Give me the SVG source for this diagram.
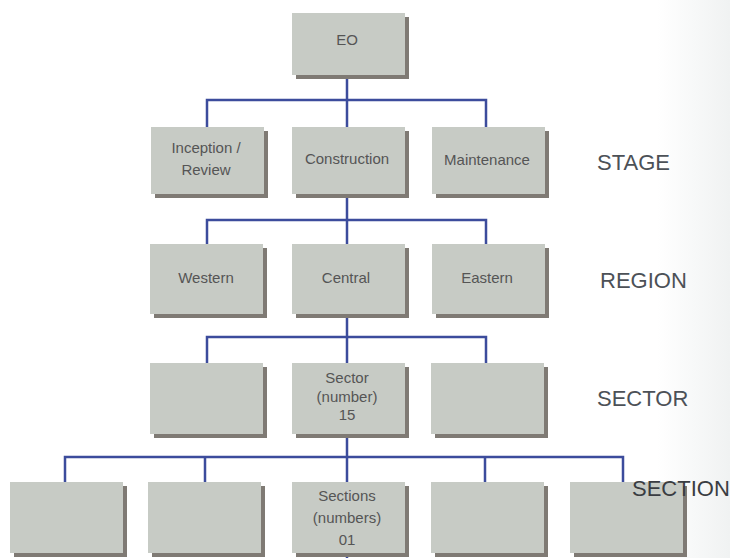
<svg xmlns="http://www.w3.org/2000/svg" width="730" height="558" viewBox="0 0 730 558">
<defs>
<linearGradient id="bg" x1="0" y1="0" x2="1" y2="0">
<stop offset="0" stop-color="#ffffff"/>
<stop offset="0.9" stop-color="#ffffff"/>
<stop offset="1" stop-color="#f0f2f2"/>
</linearGradient>
<style>
.sh{fill:#7f7a74}
.face{fill:#c7cbc5}
.lbl{font-family:"Liberation Sans",Arial,sans-serif;font-size:15px;fill:#555555;text-anchor:middle}
.lvl{font-family:"Liberation Sans",Arial,sans-serif;font-size:22px;fill:#4c5157}
.conn{stroke:#3c4c9c;stroke-width:2.5;fill:none}
</style>
</defs>
<rect width="730" height="558" fill="url(#bg)"/>
<g id="connectors" class="conn">
<path d="M347 75V100M207 127V100H486V127M347 100V127"/>
<path d="M347 194V220M207 244V220H486V244M347 220V244"/>
<path d="M347 314V337M207 363V337H486V363M347 337V363"/>
<path d="M347 434V457M65 482V457H623V482M205 457V482M347 457V482M485 457V482"/>
<path d="M347 553V558"/>
</g>
<g id="eo"><rect class="sh" x="296" y="17" width="113" height="62"/><rect class="face" x="292" y="13" width="113" height="62"/><text class="lbl" x="347" y="45">EO</text></g>
<g id="inception"><rect class="sh" x="155" y="131" width="113" height="67"/><rect class="face" x="151" y="127" width="113" height="67"/><text class="lbl" x="206" y="153">Inception /</text><text class="lbl" x="206" y="175">Review</text></g>
<g id="construction"><rect class="sh" x="296" y="131" width="113" height="67"/><rect class="face" x="292" y="127" width="113" height="67"/><text class="lbl" x="347" y="164">Construction</text></g>
<g id="maintenance"><rect class="sh" x="436" y="131" width="113" height="67"/><rect class="face" x="432" y="127" width="113" height="67"/><text class="lbl" x="487" y="165">Maintenance</text></g>
<g id="western"><rect class="sh" x="154" y="248" width="113" height="70"/><rect class="face" x="150" y="244" width="113" height="70"/><text class="lbl" x="206" y="283">Western</text></g>
<g id="central"><rect class="sh" x="296" y="248" width="113" height="70"/><rect class="face" x="292" y="244" width="113" height="70"/><text class="lbl" x="346" y="283">Central</text></g>
<g id="eastern"><rect class="sh" x="436" y="248" width="113" height="70"/><rect class="face" x="432" y="244" width="113" height="70"/><text class="lbl" x="487" y="283">Eastern</text></g>
<g id="sector1"><rect class="sh" x="154" y="367" width="113" height="71"/><rect class="face" x="150" y="363" width="113" height="71"/></g>
<g id="sector2"><rect class="sh" x="296" y="367" width="113" height="71"/><rect class="face" x="292" y="363" width="113" height="71"/><text class="lbl" x="347" y="383">Sector</text><text class="lbl" x="347" y="402">(number)</text><text class="lbl" x="347" y="420">15</text></g>
<g id="sector3"><rect class="sh" x="435" y="367" width="113" height="71"/><rect class="face" x="431" y="363" width="113" height="71"/></g>
<g id="section1"><rect class="sh" x="14" y="486" width="113" height="71"/><rect class="face" x="10" y="482" width="113" height="71"/></g>
<g id="section2"><rect class="sh" x="152" y="486" width="113" height="71"/><rect class="face" x="148" y="482" width="113" height="71"/></g>
<g id="section3"><rect class="sh" x="296" y="486" width="113" height="71"/><rect class="face" x="292" y="482" width="113" height="71"/><text class="lbl" x="347" y="501">Sections</text><text class="lbl" x="347" y="523">(numbers)</text><text class="lbl" x="347" y="545">01</text></g>
<g id="section4"><rect class="sh" x="435" y="486" width="113" height="71"/><rect class="face" x="431" y="482" width="113" height="71"/></g>
<g id="section5"><rect class="sh" x="574" y="486" width="113" height="71"/><rect class="face" x="570" y="482" width="113" height="71"/></g>
<g id="levels">
<text class="lvl" x="597" y="170">STAGE</text>
<text class="lvl" x="600" y="288">REGION</text>
<text class="lvl" x="597" y="406">SECTOR</text>
<text class="lvl" x="632" y="496" style="fill:#3a3d42">SECTION</text>
</g>
</svg>
